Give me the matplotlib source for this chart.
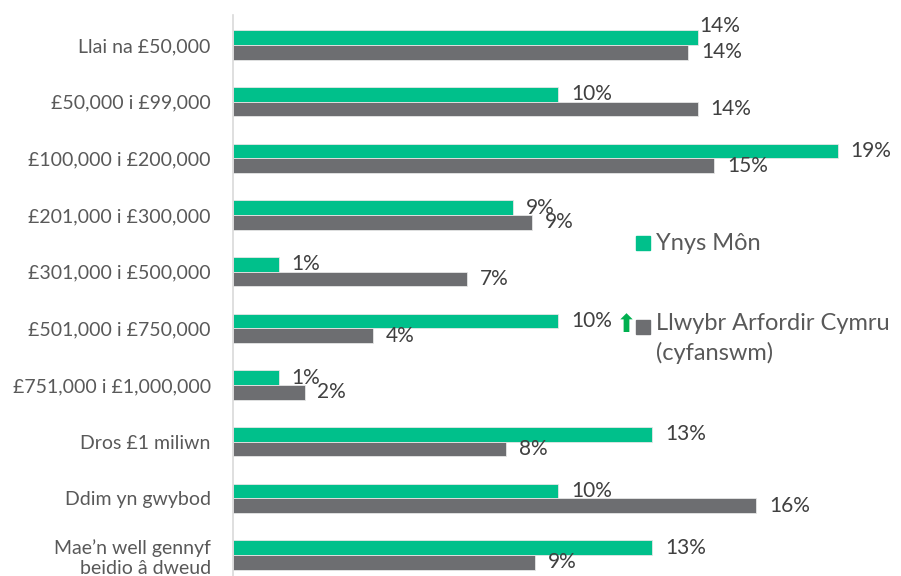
import matplotlib.pyplot as plt
from matplotlib.patches import Rectangle
import numpy as np

plt.rcParams['font.family'] = ['Lato', 'DejaVu Sans']

categories = ["Llai na £50,000", "£50,000 i £99,000", "£100,000 i £200,000",
              "£201,000 i £300,000", "£301,000 i £500,000", "£501,000 i £750,000",
              "£751,000 i £1,000,000", "Dros £1 miliwn", "Ddim yn gwybod",
              "Mae’n well gennyf\nbeidio â dweud"]
ynys_mon = [14.3, 10.0, 18.6, 8.6, 1.4, 10.0, 1.4, 12.9, 10.0, 12.9]
cymru = [14.0, 14.3, 14.8, 9.2, 7.2, 4.3, 2.2, 8.4, 16.1, 9.3]
series_names = ["Ynys Môn", "Llwybr Arfordir Cymru\n(cyfanswm)"]

teal = "#00C08B"
grey = "#6D6E71"
txt = "#404040"

fig = plt.figure(figsize=(9.01, 5.76), dpi=100)
ax = fig.add_axes([233/901, 0, 668/901, 561/576])

y = np.arange(len(categories))
h = 0.26
ax.barh(y - h/2, ynys_mon, height=h, color=teal, edgecolor="#e6e6e6", linewidth=0.6)
ax.barh(y + h/2, cymru, height=h, color=grey, edgecolor="#e6e6e6", linewidth=0.6)

for i, (a, b) in enumerate(zip(ynys_mon, cymru)):
    off = (2, 12) if i == 0 else (13, 0)
    ax.annotate(f"{a:.0f}%", (a, i - h/2), xytext=off, textcoords="offset pixels",
                ha="left", va="center", fontsize=15, color=txt)
    ax.annotate(f"{b:.0f}%", (b, i + h/2), xytext=(13, 0), textcoords="offset pixels",
                ha="left", va="center", fontsize=15, color=txt)

# green up arrow next to the £501,000 i £750,000 label
ax.annotate("⬆", (ynys_mon[5], 5 - h/2), xytext=(58, -4), textcoords="offset pixels",
            ha="left", va="center", fontsize=18, color="#00B050", family="DejaVu Sans")

ax.set_yticks(y)
ax.set_yticklabels(categories, fontsize=14, color="#595959")
ax.tick_params(axis="y", length=0, pad=16)
ax.set_xticks([])
ax.set_xlim(0, 668/32.5)
ax.set_ylim(len(categories) - 1 + 21/56.7, -30/56.7)
for s in ["top", "right", "bottom"]:
    ax.spines[s].set_visible(False)
ax.spines["left"].set_color("#d9d9d9")
ax.spines["left"].set_linewidth(1.2)

# legend
fig.add_artist(Rectangle((636/901, 1 - 250/576), 14/901, 14/576, transform=fig.transFigure, color=teal))
fig.text(656/901, 1 - 243/576, series_names[0], va="center", ha="left", fontsize=17, color="#595959")
fig.add_artist(Rectangle((636/901, 1 - 334/576), 14/901, 14/576, transform=fig.transFigure, color=grey))
fig.text(656/901, 1 - 313/576, series_names[1], va="top", ha="left", fontsize=17,
         color="#595959", linespacing=1.45)

fig.savefig("out.png", dpi=100)
